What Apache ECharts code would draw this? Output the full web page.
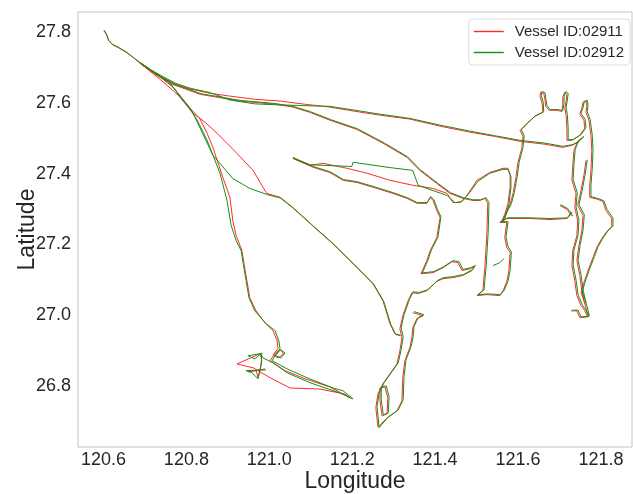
<!DOCTYPE html>
<html>
<head>
<meta charset="utf-8">
<script src="https://cdn.jsdelivr.net/npm/echarts@6/dist/echarts.min.js"></script>
<style>
html,body{margin:0;padding:0;background:#fff;}
#chart{width:633px;height:494px;}
</style>
</head>
<body>
<div id="chart"></div>
<script>
// Axis ticks
const lonTicks = [120.6, 120.8, 121.0, 121.2, 121.4, 121.6, 121.8];
const latTicks = [26.8, 27.0, 27.2, 27.4, 27.6, 27.8];
const vesselNames = ['Vessel ID:02911', 'Vessel ID:02912'];

// ---- Vessel 02911 (red) track pieces, [lon, lat] ----
const redA = [[120.601,27.803],[120.608,27.792],[120.613,27.775],[120.623,27.763],[120.637,27.755],[120.657,27.741],[120.674,27.726],[120.688,27.712],[120.712,27.692],[120.741,27.673],[120.773,27.653],[120.809,27.639],[120.857,27.627],[120.905,27.619],[120.965,27.610],[121.026,27.605],[121.086,27.596],[121.146,27.588],[121.207,27.576],[121.267,27.565],[121.339,27.554],[121.412,27.534],[121.484,27.517],[121.544,27.505],[121.605,27.491],[121.665,27.483],[121.708,27.474],[121.730,27.480],[121.744,27.488],[121.757,27.503],[121.744,27.491],[121.735,27.466],[121.732,27.423],[121.730,27.381],[121.740,27.344],[121.737,27.304],[121.744,27.267],[121.742,27.225],[121.732,27.182],[121.730,27.140],[121.737,27.097],[121.742,27.055],[121.752,27.027],[121.761,27.012],[121.769,26.995],[121.749,26.993],[121.742,27.012],[121.728,27.012]];
const redB = [[120.688,27.712],[120.724,27.681],[120.765,27.653],[120.833,27.624],[120.929,27.605],[121.014,27.596],[121.057,27.588],[121.098,27.573],[121.146,27.551],[121.211,27.525],[121.274,27.486],[121.332,27.446],[121.363,27.409],[121.404,27.372],[121.436,27.344],[121.467,27.330],[121.491,27.324],[121.508,27.324],[121.520,27.330],[121.527,27.316],[121.525,27.231],[121.520,27.134],[121.515,27.069],[121.501,27.055],[121.525,27.058],[121.556,27.055],[121.564,27.069],[121.573,27.095],[121.578,27.126],[121.581,27.177],[121.573,27.191],[121.568,27.219],[121.573,27.262],[121.556,27.262],[121.573,27.273],[121.629,27.273],[121.677,27.270],[121.718,27.273],[121.728,27.290]];
const redC = [[121.561,27.265],[121.568,27.284],[121.581,27.313],[121.588,27.344],[121.595,27.389],[121.600,27.432],[121.609,27.471],[121.612,27.505],[121.605,27.522],[121.622,27.542],[121.641,27.562],[121.660,27.573],[121.658,27.599],[121.653,27.619],[121.655,27.630],[121.662,27.627],[121.665,27.610],[121.667,27.590],[121.675,27.579],[121.692,27.579],[121.706,27.576],[121.708,27.596],[121.708,27.616],[121.713,27.630],[121.718,27.624],[121.716,27.605],[121.713,27.585],[121.716,27.565],[121.718,27.528],[121.718,27.494],[121.730,27.494],[121.749,27.508],[121.761,27.528],[121.759,27.551],[121.749,27.568],[121.754,27.585],[121.757,27.602],[121.764,27.605],[121.766,27.590],[121.764,27.573],[121.771,27.551],[121.776,27.508],[121.778,27.466],[121.776,27.409],[121.773,27.367],[121.773,27.333],[121.793,27.327],[121.805,27.321],[121.812,27.296],[121.826,27.273],[121.826,27.250],[121.814,27.236],[121.802,27.216],[121.790,27.191],[121.781,27.163],[121.769,27.126],[121.759,27.092],[121.752,27.063],[121.759,27.041],[121.766,27.012],[121.769,26.995]];
const redD = [[121.764,27.437],[121.759,27.395],[121.752,27.352],[121.744,27.310],[121.757,27.282],[121.754,27.239],[121.747,27.197],[121.742,27.154],[121.749,27.112],[121.754,27.069],[121.761,27.032]];
const redE = [[121.701,27.310],[121.718,27.299],[121.730,27.279]];
const redF1 = [[121.057,27.443],[121.098,27.423],[121.130,27.429],[121.187,27.415],[121.236,27.401],[121.291,27.381],[121.346,27.367],[121.395,27.358],[121.429,27.344],[121.443,27.318],[121.460,27.318],[121.474,27.333],[121.501,27.381],[121.532,27.403],[121.564,27.415],[121.576,27.415],[121.581,27.395],[121.581,27.364],[121.576,27.316],[121.568,27.284],[121.561,27.265]];
const redF2 = [[121.057,27.443],[121.105,27.418],[121.146,27.403],[121.178,27.381],[121.211,27.375],[121.260,27.358],[121.298,27.344],[121.332,27.330],[121.356,27.316],[121.380,27.316],[121.388,27.333],[121.395,27.324],[121.404,27.296],[121.412,27.276],[121.404,27.219],[121.388,27.182],[121.380,27.154],[121.366,27.117],[121.395,27.120],[121.419,27.134],[121.441,27.151],[121.455,27.148],[121.465,27.126],[121.484,27.131],[121.494,27.137],[121.489,27.126],[121.467,27.112],[121.443,27.106],[121.419,27.103],[121.404,27.095],[121.380,27.069],[121.359,27.061],[121.344,27.063],[121.335,27.041],[121.322,26.998],[121.315,26.961],[121.320,26.936],[121.315,26.899],[121.308,26.862],[121.291,26.834],[121.274,26.806],[121.262,26.777],[121.257,26.738],[121.262,26.684],[121.284,26.709],[121.308,26.729],[121.320,26.758],[121.322,26.823],[121.327,26.871],[121.339,26.908],[121.344,26.936],[121.346,26.964],[121.356,26.990],[121.371,26.998],[121.346,27.007]];
const redLoop = [[121.267,26.794],[121.279,26.797],[121.286,26.766],[121.284,26.721],[121.272,26.715],[121.267,26.758],[121.267,26.794]];
const redG1 = [[120.688,27.712],[120.736,27.667],[120.780,27.622],[120.816,27.571],[120.845,27.545],[120.874,27.514],[120.922,27.457],[120.961,27.409],[120.985,27.361],[120.994,27.344],[121.026,27.333],[121.057,27.304],[121.105,27.253],[121.154,27.202],[121.219,27.126],[121.250,27.089],[121.274,27.041],[121.291,26.976],[121.303,26.947],[121.315,26.944]];
const redG2 = [[120.688,27.712],[120.731,27.678],[120.768,27.644],[120.809,27.585],[120.833,27.554],[120.850,27.514],[120.864,27.474],[120.888,27.389],[120.905,27.333],[120.912,27.267],[120.920,27.225],[120.934,27.182],[120.939,27.146],[120.946,27.097],[120.953,27.049],[120.968,27.012],[120.990,26.978],[121.009,26.956],[121.019,26.927],[121.021,26.905],[121.009,26.888],[121.021,26.879],[121.035,26.891],[121.026,26.902],[121.014,26.893],[121.002,26.871],[121.038,26.843],[121.086,26.820],[121.146,26.797],[121.195,26.766],[121.182,26.777],[121.122,26.791],[121.050,26.794],[121.002,26.823],[120.961,26.851],[120.922,26.862],[120.949,26.876],[120.978,26.891],[120.982,26.871],[120.973,26.823],[120.968,26.843],[120.949,26.840],[120.990,26.848]];

// ---- Vessel 02912 (green) track pieces, [lon, lat] ----
const greenA = [[120.601,27.806],[120.607,27.795],[120.612,27.777],[120.622,27.765],[120.636,27.757],[120.655,27.744],[120.672,27.728],[120.688,27.714],[120.713,27.694],[120.742,27.675],[120.774,27.655],[120.810,27.641],[120.857,27.629],[120.905,27.608],[120.965,27.597],[121.026,27.594],[121.086,27.592],[121.146,27.590],[121.207,27.579],[121.267,27.568],[121.339,27.556],[121.412,27.537],[121.484,27.520],[121.544,27.507],[121.605,27.494],[121.665,27.486],[121.708,27.477],[121.732,27.482],[121.746,27.490],[121.759,27.505],[121.746,27.493],[121.738,27.468],[121.735,27.425],[121.733,27.383],[121.743,27.346],[121.740,27.306],[121.747,27.269],[121.745,27.227],[121.735,27.184],[121.733,27.142],[121.740,27.099],[121.745,27.057],[121.755,27.029],[121.764,27.014],[121.771,26.997],[121.752,26.995],[121.745,27.014],[121.731,27.014]];
const greenB = [[120.688,27.714],[120.725,27.683],[120.766,27.655],[120.834,27.626],[120.929,27.607],[121.014,27.598],[121.057,27.590],[121.099,27.575],[121.147,27.553],[121.212,27.527],[121.275,27.488],[121.333,27.448],[121.364,27.411],[121.405,27.374],[121.437,27.346],[121.468,27.332],[121.492,27.326],[121.510,27.326],[121.523,27.332],[121.530,27.318],[121.528,27.233],[121.523,27.136],[121.518,27.071],[121.503,27.058],[121.527,27.060],[121.558,27.058],[121.567,27.071],[121.576,27.097],[121.581,27.128],[121.584,27.179],[121.576,27.193],[121.571,27.221],[121.576,27.264],[121.558,27.264],[121.575,27.275],[121.629,27.275],[121.677,27.273],[121.720,27.275],[121.731,27.292]];
const greenC = [[121.563,27.267],[121.571,27.286],[121.584,27.315],[121.591,27.346],[121.598,27.391],[121.603,27.434],[121.612,27.473],[121.615,27.507],[121.608,27.524],[121.624,27.544],[121.643,27.564],[121.662,27.575],[121.661,27.601],[121.656,27.621],[121.658,27.632],[121.665,27.629],[121.667,27.612],[121.670,27.592],[121.677,27.581],[121.694,27.581],[121.708,27.578],[121.711,27.598],[121.711,27.618],[121.716,27.632],[121.721,27.626],[121.719,27.607],[121.716,27.587],[121.719,27.567],[121.721,27.530],[121.721,27.496],[121.733,27.496],[121.752,27.510],[121.764,27.530],[121.762,27.553],[121.752,27.570],[121.757,27.587],[121.760,27.604],[121.767,27.607],[121.769,27.592],[121.767,27.575],[121.774,27.553],[121.779,27.510],[121.781,27.468],[121.779,27.411],[121.776,27.369],[121.776,27.335],[121.795,27.329],[121.807,27.323],[121.815,27.298],[121.829,27.275],[121.829,27.252],[121.817,27.238],[121.805,27.218],[121.793,27.193],[121.784,27.165],[121.772,27.128],[121.762,27.094],[121.755,27.065],[121.762,27.043],[121.769,27.014],[121.772,26.997]];
const greenD = [[121.767,27.439],[121.762,27.397],[121.755,27.354],[121.747,27.312],[121.760,27.284],[121.757,27.241],[121.750,27.199],[121.745,27.156],[121.752,27.114],[121.757,27.071],[121.764,27.034]];
const greenE = [[121.703,27.312],[121.720,27.301],[121.732,27.281]];
const greenSpur = [[121.540,27.140],[121.556,27.148],[121.566,27.160]];
const greenF1 = [[121.057,27.445],[121.098,27.425],[121.199,27.420],[121.202,27.432],[121.284,27.418],[121.346,27.409],[121.359,27.367],[121.395,27.352],[121.429,27.338],[121.448,27.318],[121.465,27.321],[121.484,27.347],[121.503,27.378],[121.532,27.401],[121.564,27.412],[121.576,27.412],[121.583,27.392],[121.583,27.361],[121.578,27.313],[121.571,27.282],[121.564,27.262]];
const greenF2 = [[121.057,27.445],[121.106,27.420],[121.147,27.405],[121.179,27.383],[121.212,27.377],[121.261,27.360],[121.299,27.346],[121.333,27.332],[121.357,27.318],[121.381,27.318],[121.390,27.335],[121.397,27.326],[121.406,27.298],[121.414,27.278],[121.407,27.221],[121.391,27.184],[121.383,27.156],[121.369,27.119],[121.397,27.123],[121.421,27.137],[121.443,27.154],[121.458,27.151],[121.467,27.129],[121.486,27.134],[121.497,27.140],[121.491,27.129],[121.469,27.115],[121.445,27.109],[121.421,27.106],[121.406,27.098],[121.383,27.072],[121.362,27.064],[121.347,27.066],[121.338,27.044],[121.325,27.001],[121.318,26.964],[121.323,26.939],[121.318,26.902],[121.311,26.865],[121.294,26.837],[121.277,26.809],[121.265,26.780],[121.260,26.741],[121.265,26.682],[121.287,26.712],[121.311,26.732],[121.323,26.761],[121.325,26.826],[121.330,26.874],[121.342,26.911],[121.347,26.939],[121.349,26.967],[121.359,26.993],[121.373,27.001],[121.349,27.010]];
const greenLoop = [[121.270,26.797],[121.282,26.800],[121.289,26.769],[121.287,26.724],[121.275,26.718],[121.270,26.761],[121.270,26.797]];
const greenG1 = [[120.688,27.714],[120.760,27.656],[120.816,27.571],[120.864,27.452],[120.912,27.386],[120.953,27.358],[120.994,27.341],[121.027,27.331],[121.058,27.302],[121.106,27.251],[121.155,27.200],[121.221,27.124],[121.252,27.087],[121.276,27.039],[121.293,26.974],[121.305,26.945],[121.317,26.942]];
const greenG2 = [[120.688,27.714],[120.729,27.681],[120.760,27.656],[120.801,27.596],[120.826,27.551],[120.850,27.494],[120.881,27.401],[120.898,27.324],[120.908,27.253],[120.920,27.211],[120.932,27.182],[120.937,27.146],[120.944,27.097],[120.951,27.049],[120.965,27.012],[120.992,26.976],[121.014,26.956],[121.023,26.927],[121.026,26.905],[121.016,26.885],[121.028,26.879],[121.038,26.893],[121.028,26.902],[121.016,26.891],[121.007,26.871],[121.043,26.848],[121.091,26.823],[121.154,26.794],[121.178,26.786],[121.202,26.763],[121.170,26.780],[121.098,26.809],[121.043,26.837],[121.009,26.865],[120.985,26.879],[120.978,26.891],[120.949,26.885],[120.965,26.876],[120.982,26.893],[120.980,26.857],[120.973,26.820],[120.958,26.837],[120.944,26.843],[120.992,26.845]];

const redPieces = [redA, redB, redC, redD, redE, redF1, redF2, redLoop, redG1, redG2];
const greenPieces = [greenA, greenB, greenC, greenD, greenE, greenSpur, greenF1, greenF2, greenLoop, greenG1, greenG2];

const FONT = "'Liberation Sans', Arial, sans-serif";
const RED = '#ff2a2a';
const GREEN = '#159015';

function mk(name, color, data, z) {
  return {
    type: 'line', name: name, data: data, symbol: 'none', z: z,
    lineStyle: { color: color, width: 1 }, itemStyle: { color: color },
    silent: true, animation: false, connectNulls: false
  };
}
const series = [];
redPieces.forEach(d => series.push(mk(vesselNames[0], RED, d, 2)));
greenPieces.forEach(d => series.push(mk(vesselNames[1], GREEN, d, 3)));

const chart = echarts.init(document.getElementById('chart'), null, { renderer: 'canvas' });
chart.setOption({
  animation: false,
  backgroundColor: '#ffffff',
  grid: { left: 78, right: 1, top: 12, bottom: 47, show: true, borderColor: '#c4c4c4', borderWidth: 1, containLabel: false, outerBoundsMode: 'none' },
  legend: {
    data: vesselNames.map(n => ({ name: n, icon: 'rect' })),
    orient: 'vertical', right: 3, top: 19,
    itemWidth: 30, itemHeight: 1.4, itemGap: 4,
    padding: [4, 6, 4, 5], borderColor: '#dcdcdc', borderWidth: 1, borderRadius: 4,
    backgroundColor: '#ffffff',
    textStyle: { fontSize: 15, color: '#262626', fontFamily: FONT, padding: [0, 0, 0, 6], lineHeight: 17 }
  },
  xAxis: {
    type: 'value', min: 120.5385, max: 121.875,
    name: 'Longitude', nameLocation: 'middle', nameGap: 23, nameMoveOverlap: false,
    nameTextStyle: { fontSize: 23, color: '#262626', fontFamily: FONT },
    axisLine: { show: false }, axisTick: { show: false }, splitLine: { show: false },
    axisLabel: { customValues: lonTicks, formatter: v => v.toFixed(1), fontSize: 18, color: '#262626', fontFamily: FONT, margin: 4 }
  },
  yAxis: {
    type: 'value', min: 26.6272, max: 27.8567,
    name: 'Latitude', nameLocation: 'middle', nameGap: 39, nameMoveOverlap: false,
    nameTextStyle: { fontSize: 23, color: '#262626', fontFamily: FONT },
    axisLine: { show: false }, axisTick: { show: false }, splitLine: { show: false },
    axisLabel: { customValues: latTicks, formatter: v => v.toFixed(1), fontSize: 18, color: '#262626', fontFamily: FONT, margin: 7 }
  },
  series: series
});
</script>
</body>
</html>
